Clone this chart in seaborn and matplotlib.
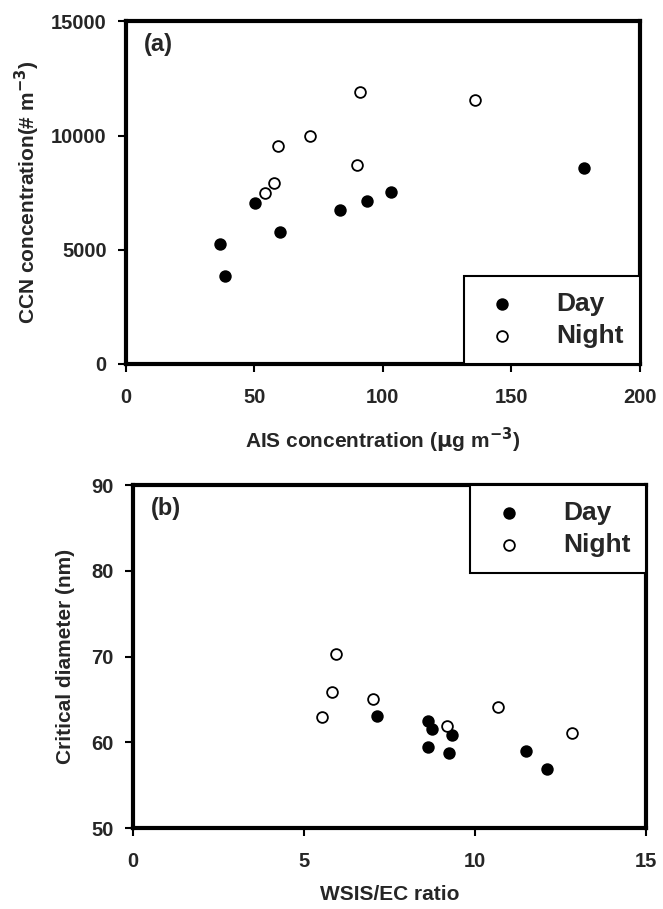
import matplotlib
matplotlib.use("Agg")
import matplotlib.pyplot as plt
import seaborn as sns
import pandas as pd

# Panel (a): AIS concentration vs CCN concentration
a_day_x = [36.5, 38.4, 50.2, 59.8, 83.3, 93.7, 103.2, 178.4]
a_day_y = [5230, 3870, 7060, 5770, 6720, 7120, 7540, 8580]
a_night_x = [54.0, 57.6, 59.3, 71.6, 90.0, 91.0, 135.8]
a_night_y = [7470, 7910, 9520, 9990, 8730, 11910, 11560]

# Panel (b): WSIS/EC ratio vs critical diameter
b_day_x = [7.13, 8.63, 8.73, 9.32, 8.62, 9.25, 11.50, 12.09]
b_day_y = [63.1, 62.5, 61.5, 60.9, 59.5, 58.8, 59.0, 56.9]
b_night_x = [5.53, 5.82, 5.93, 7.03, 9.17, 10.66, 12.84]
b_night_y = [63.0, 65.9, 70.3, 65.1, 61.9, 64.1, 61.1]

a_xticks = [0, 50, 100, 150, 200]
a_yticks = [0, 5000, 10000, 15000]
b_xticks = [0, 5, 10, 15]
b_yticks = [50, 60, 70, 80, 90]

sns.set_style("white")
plt.rcParams['font.family'] = ['Liberation Sans', 'DejaVu Sans']
plt.rcParams['font.weight'] = 'bold'
plt.rcParams['mathtext.default'] = 'bf'

fig = plt.figure(figsize=(6.63, 9.09), dpi=100)
ax1 = fig.add_axes([0.190, 0.5996, 0.775, 0.377])
ax2 = fig.add_axes([0.2006, 0.0891, 0.774, 0.377])

def df(x, y, label):
    return pd.DataFrame({"x": x, "y": y, "Period": label})

def draw(ax, dx, dy, nx, ny):
    d = pd.concat([df(dx, dy, "Day"), df(nx, ny, "Night")], ignore_index=True)
    sns.scatterplot(data=d[d.Period == "Day"], x="x", y="y", ax=ax, color="black",
                    edgecolor="black", s=60, linewidth=1.2, label="Day", zorder=3)
    sns.scatterplot(data=d[d.Period == "Night"], x="x", y="y", ax=ax, color="white",
                    edgecolor="black", s=60, linewidth=1.3, label="Night", zorder=3)

draw(ax1, a_day_x, a_day_y, a_night_x, a_night_y)
draw(ax2, b_day_x, b_day_y, b_night_x, b_night_y)

ax1.set_xlim(0, 200); ax1.set_ylim(0, 15000)
ax2.set_xlim(0, 15); ax2.set_ylim(50, 90)
ax1.set_xticks(a_xticks); ax1.set_yticks(a_yticks)
ax2.set_xticks(b_xticks); ax2.set_yticks(b_yticks)

ax1.set_xlabel(r"AIS concentration ($\mathbf{\mu}$g m$^{-3}$)", fontsize=15, fontweight='bold', labelpad=14)
ax1.set_ylabel(r"CCN concentration(# m$^{-3}$)", fontsize=15, fontweight='bold', labelpad=6)
ax2.set_xlabel("WSIS/EC ratio", fontsize=15, fontweight='bold', labelpad=10)
ax2.set_ylabel("Critical diameter (nm)", fontsize=15, fontweight='bold', labelpad=12)

for ax, lab in [(ax1, "(a)"), (ax2, "(b)")]:
    for sp in ax.spines.values():
        sp.set_linewidth(3)
        sp.set_color("black")
    ax.tick_params(axis='both', which='major', direction='out', length=6, width=1.5,
                   labelsize=14.5, pad=8, color='black', bottom=True, left=True)
    ax.tick_params(axis='x', pad=11)
    for t in ax.get_xticklabels() + ax.get_yticklabels():
        t.set_fontweight('bold')
    ax.text(0.035, 0.965, lab, transform=ax.transAxes, fontsize=17, fontweight='bold',
            va='top', ha='left')

leg_kw = dict(borderaxespad=0.0, fontsize=19, frameon=True, fancybox=False,
              handletextpad=1.2, borderpad=0.6, labelspacing=0.3,
              markerscale=1.0, handlelength=1.7)
leg1 = ax1.legend(loc='lower right', bbox_to_anchor=(1.0, 0.0), **leg_kw)
leg2 = ax2.legend(loc='upper right', bbox_to_anchor=(1.0, 1.0), **leg_kw)
for leg in (leg1, leg2):
    fr = leg.get_frame()
    fr.set_edgecolor("black"); fr.set_linewidth(1.5); fr.set_alpha(1)
    for t in leg.get_texts():
        t.set_fontweight('bold')

fig.savefig("out.png", dpi=100)
